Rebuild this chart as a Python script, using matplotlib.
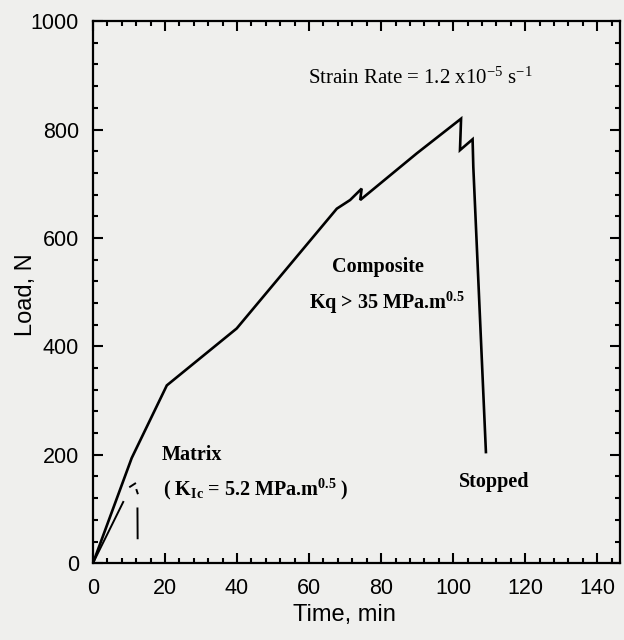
import numpy as np
import matplotlib
matplotlib.use("Agg")
import matplotlib.pyplot as plt
from matplotlib.ticker import MultipleLocator

plt.rcParams["mathtext.fontset"] = "custom"
plt.rcParams["mathtext.rm"] = "Liberation Serif"
plt.rcParams["mathtext.bf"] = "Liberation Serif:bold"
plt.rcParams["mathtext.default"] = "rm"

# Load–time record of the composite specimen (min, N)
composite_time = [0, 10.75, 20.5, 39.9, 67.7, 71.4, 74.6, 74.2, 89.9,
                  102.2, 101.9, 105.4, 105.6, 109.1]
composite_load = [0, 194, 328, 433, 654, 670, 691, 670, 756,
                  820, 762, 782, 731, 205]

# Load–time record of the unreinforced matrix (gaps where the trace is faint)
matrix_time = [0, 8.4, np.nan, 10.3, 11.7, np.nan, 12.1, 12.4, np.nan, 12.35, 12.4]
matrix_load = [0, 113, np.nan, 141, 147, np.nan, 135, 129, np.nan, 101, 46]

x_ticks = [0, 20, 40, 60, 80, 100, 120, 140]
y_ticks = [0, 200, 400, 600, 800, 1000]

bg = "#efefed"
fig = plt.figure(figsize=(6.24, 6.4), dpi=100, facecolor=bg)
ax = fig.add_axes([0.149, 0.120, 0.845, 0.847], facecolor=bg)

ax.plot(composite_time, composite_load, color="black", lw=1.9,
        solid_joinstyle="miter")
ax.plot(matrix_time, matrix_load, color="black", lw=1.4)

ax.set_xlim(0, 146.4)
ax.set_ylim(0, 1000)
ax.set_xticks(x_ticks)
ax.set_yticks(y_ticks)
ax.xaxis.set_minor_locator(MultipleLocator(4))
ax.yaxis.set_minor_locator(MultipleLocator(40))

for s in ax.spines.values():
    s.set_linewidth(1.6)

ax.tick_params(which="both", direction="in", top=True, right=True,
               width=1.5, colors="black")
ax.tick_params(which="major", length=7)
ax.tick_params(which="minor", length=3.5)
ax.tick_params(axis="x", which="major", pad=11, labelsize=15.5)
ax.tick_params(axis="y", which="major", pad=10, labelsize=15.5)
for lab in ax.get_xticklabels() + ax.get_yticklabels():
    lab.set_fontfamily("Liberation Sans")

ax.set_xlabel("Time, min", fontsize=17, family="Liberation Sans", labelpad=3)
ax.xaxis.label.set_x(0.476)
ax.set_ylabel("Load, N", fontsize=17, family="Liberation Sans")
ax.yaxis.set_label_coords(-0.106, 0.496)

serif = "Liberation Serif"
ax.text(59.7, 884, r"Strain Rate = 1.2 x10$^{-5}$ s$^{-1}$",
        fontsize=15, family=serif, va="baseline", ha="left")
ax.text(66.3, 537, "Composite", fontsize=14.5, family=serif,
        fontweight="bold", va="baseline", ha="left")
ax.text(60.1, 470, r"Kq > 35 MPa.m$^{\mathbf{0.5}}$", fontsize=14.5,
        family=serif, fontweight="bold", va="baseline", ha="left")
ax.text(19.1, 190, "Matrix", fontsize=14.5, family=serif,
        fontweight="bold", va="baseline", ha="left")
ax.text(19.4, 125, r"( K$_{\mathbf{Ic}}$ = 5.2 MPa.m$^{\mathbf{0.5}}$ )",
        fontsize=14.5, family=serif, fontweight="bold",
        va="baseline", ha="left")
ax.text(101.5, 141, "Stopped", fontsize=14.5, family=serif,
        fontweight="bold", va="baseline", ha="left")

fig.savefig("out.png", dpi=100, facecolor=bg)
